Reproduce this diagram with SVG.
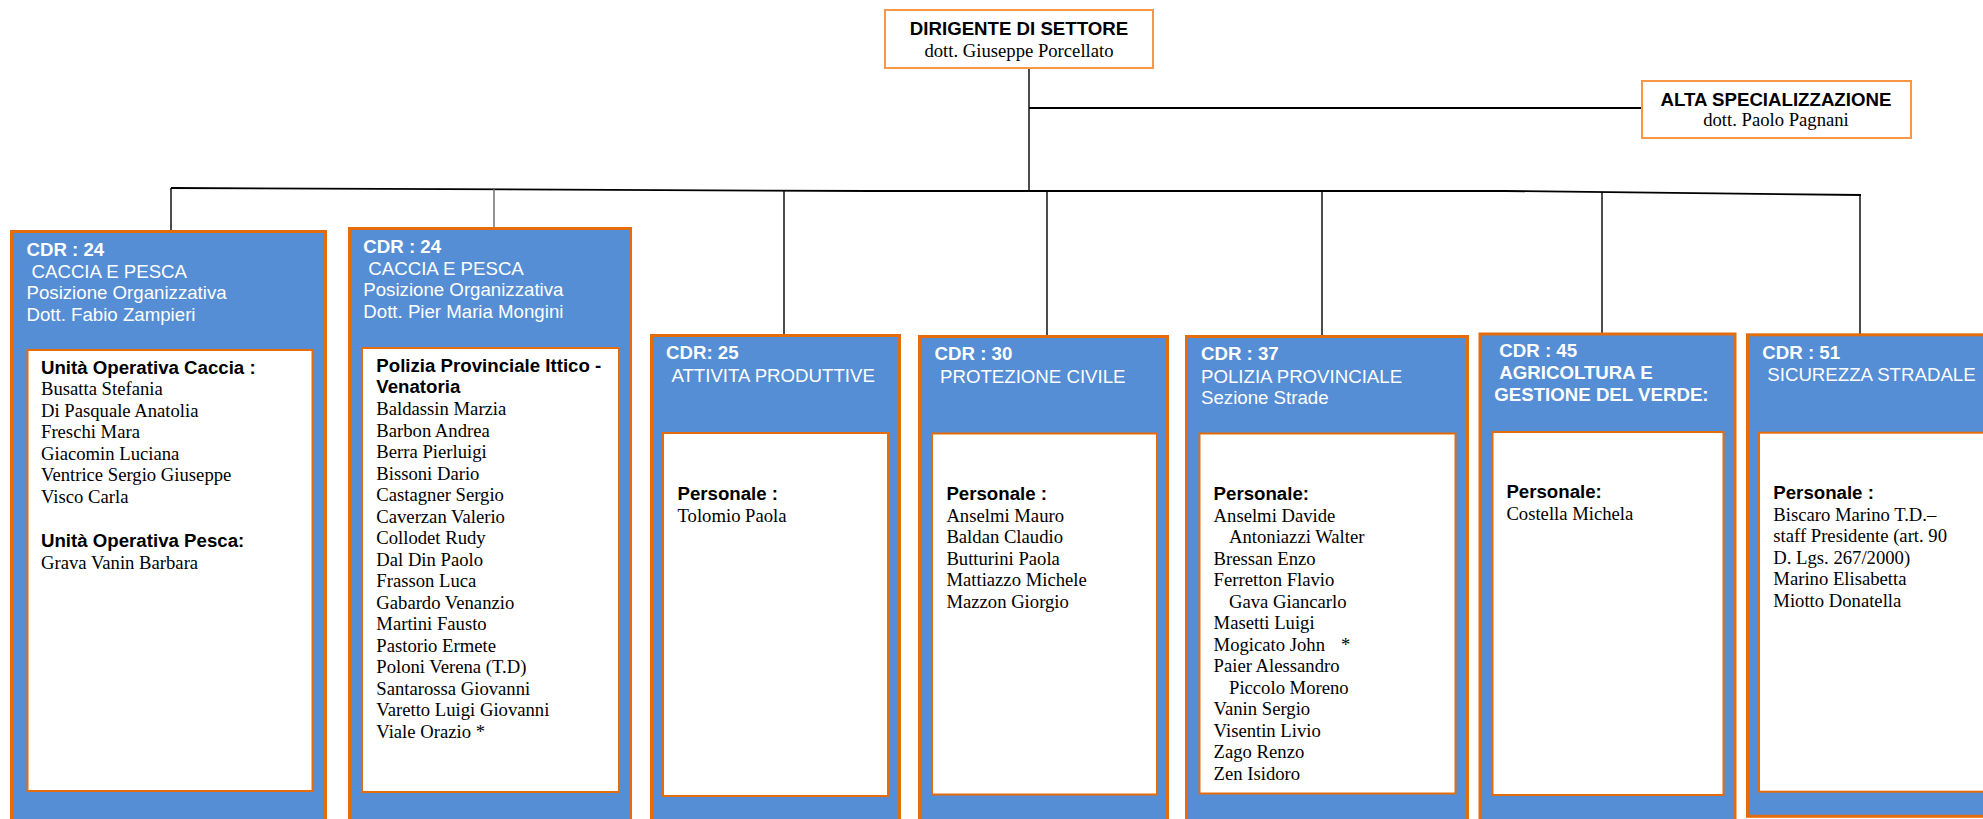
<svg xmlns="http://www.w3.org/2000/svg" width="1983" height="819" viewBox="0 0 1983 819">
<style>
.top{fill:#fff;stroke:#F79646;stroke-width:2}
.outer{fill:#558ED5;stroke:#E46C0A;stroke-width:3}
.inner{fill:#fff;stroke:#E46C0A;stroke-width:2}
.conn{fill:none;stroke:#000;stroke-width:1.4}
text{font-size:18.67px}
.hb{font-family:"Liberation Sans",Arial,sans-serif;font-weight:bold;fill:#fff}
.h{font-family:"Liberation Sans",Arial,sans-serif;fill:#fff}
.b{font-family:"Liberation Sans",Arial,sans-serif;font-weight:bold;fill:#000}
.t{font-family:"Liberation Serif","Times New Roman",serif;fill:#000}
.c{text-anchor:middle}
</style>
<rect width="1983" height="819" fill="#fff"/>
<g id="connectors">
<line class="conn" x1="1029" y1="68" x2="1029" y2="191"/>
<line class="conn" x1="1029" y1="108" x2="1642" y2="108" style="stroke-width:2"/>
<polyline class="conn" points="171,188 871,191 1505,191 1861,195" style="stroke-width:1.8"/>
<line class="conn" x1="171" y1="188" x2="171" y2="231"/>
<line class="conn" x1="494" y1="189" x2="494" y2="228" style="stroke:#666"/>
<line class="conn" x1="784" y1="190" x2="784" y2="335"/>
<line class="conn" x1="1047" y1="191" x2="1047" y2="338"/>
<line class="conn" x1="1322" y1="191" x2="1322" y2="338"/>
<line class="conn" x1="1602" y1="192" x2="1602" y2="339"/>
<line class="conn" x1="1860" y1="195" x2="1860" y2="339"/>
</g>
<g id="dirigente">
<rect class="top" x="885" y="10" width="268" height="58"/>
<text class="b c" x="1019" y="35">DIRIGENTE DI SETTORE</text>
<text class="t c" x="1019" y="57">dott. Giuseppe Porcellato</text>
</g>
<g id="alta">
<rect class="top" x="1642" y="81" width="269" height="57"/>
<text class="b c" x="1776" y="106">ALTA SPECIALIZZAZIONE</text>
<text class="t c" x="1776" y="126">dott. Paolo Pagnani</text>
</g>
<g id="cdr24a">
<rect class="outer" x="11.5" y="231.5" width="314" height="600"/>
<text class="hb" x="26.5" y="256">CDR : 24</text>
<text class="h" x="31.5" y="277.5">CACCIA E PESCA</text>
<text class="h" x="26.5" y="299">Posizione Organizzativa</text>
<text class="h" x="26.5" y="320.5">Dott. Fabio Zampieri</text>
<rect class="inner" x="27.5" y="350" width="285" height="441"/>
<text class="b" x="41" y="373.5">Unità Operativa Caccia :</text>
<text class="t" x="41" y="395">Busatta Stefania</text>
<text class="t" x="41" y="416.5">Di Pasquale Anatolia</text>
<text class="t" x="41" y="438">Freschi Mara</text>
<text class="t" x="41" y="459.5">Giacomin Luciana</text>
<text class="t" x="41" y="481">Ventrice Sergio Giuseppe</text>
<text class="t" x="41" y="502.5">Visco Carla</text>
<text class="b" x="41" y="547">Unità Operativa Pesca:</text>
<text class="t" x="41" y="568.5">Grava Vanin Barbara</text>
</g>
<g id="cdr24b">
<rect class="outer" x="349.5" y="228.5" width="281" height="600"/>
<text class="hb" x="363.3" y="252.7">CDR : 24</text>
<text class="h" x="368.3" y="274.5">CACCIA E PESCA</text>
<text class="h" x="363.3" y="296">Posizione Organizzativa</text>
<text class="h" x="363.3" y="317.5">Dott. Pier Maria Mongini</text>
<rect class="inner" x="362" y="348" width="257" height="444"/>
<text class="b" x="376.3" y="371.7">Polizia Provinciale Ittico -</text>
<text class="b" x="376.3" y="393.3">Venatoria</text>
<text class="t" x="376.3" y="415">Baldassin Marzia</text>
<text class="t" x="376.3" y="436.5">Barbon Andrea</text>
<text class="t" x="376.3" y="458">Berra Pierluigi</text>
<text class="t" x="376.3" y="479.5">Bissoni Dario</text>
<text class="t" x="376.3" y="501">Castagner Sergio</text>
<text class="t" x="376.3" y="522.5">Caverzan Valerio</text>
<text class="t" x="376.3" y="544">Collodet Rudy</text>
<text class="t" x="376.3" y="565.5">Dal Din Paolo</text>
<text class="t" x="376.3" y="587">Frasson Luca</text>
<text class="t" x="376.3" y="608.5">Gabardo Venanzio</text>
<text class="t" x="376.3" y="630">Martini Fausto</text>
<text class="t" x="376.3" y="651.5">Pastorio Ermete</text>
<text class="t" x="376.3" y="673">Poloni Verena (T.D)</text>
<text class="t" x="376.3" y="694.5">Santarossa Giovanni</text>
<text class="t" x="376.3" y="716">Varetto Luigi Giovanni</text>
<text class="t" x="376.3" y="737.5">Viale Orazio *</text>
</g>
<g id="cdr25">
<rect class="outer" x="651.5" y="335.5" width="248" height="500"/>
<text class="hb" x="666" y="359.3">CDR: 25</text>
<text class="h" x="671.4" y="381.5">ATTIVITA PRODUTTIVE</text>
<rect class="inner" x="663" y="433" width="225" height="363"/>
<text class="b" x="677.5" y="500">Personale :</text>
<text class="t" x="677.5" y="521.5">Tolomio Paola</text>
</g>
<g id="cdr30">
<rect class="outer" x="919.5" y="336.5" width="248" height="500"/>
<text class="hb" x="934.6" y="360">CDR : 30</text>
<text class="h" x="940" y="382.5">PROTEZIONE CIVILE</text>
<rect class="inner" x="932" y="433.5" width="225" height="361"/>
<text class="b" x="946.4" y="500">Personale :</text>
<text class="t" x="946.4" y="521.5">Anselmi Mauro</text>
<text class="t" x="946.4" y="543">Baldan Claudio</text>
<text class="t" x="946.4" y="564.5">Butturini Paola</text>
<text class="t" x="946.4" y="586">Mattiazzo Michele</text>
<text class="t" x="946.4" y="607.5">Mazzon Giorgio</text>
</g>
<g id="cdr37">
<rect class="outer" x="1186.5" y="336.5" width="281" height="500"/>
<text class="hb" x="1201" y="360">CDR : 37</text>
<text class="h" x="1201" y="382.5">POLIZIA PROVINCIALE</text>
<text class="h" x="1201" y="404">Sezione Strade</text>
<rect class="inner" x="1199.5" y="433.5" width="256" height="360"/>
<text class="b" x="1213.6" y="500">Personale:</text>
<text class="t" x="1213.6" y="521.5">Anselmi Davide</text>
<text class="t" x="1229" y="543">Antoniazzi Walter</text>
<text class="t" x="1213.6" y="564.5">Bressan Enzo</text>
<text class="t" x="1213.6" y="586">Ferretton Flavio</text>
<text class="t" x="1229" y="607.5">Gava Giancarlo</text>
<text class="t" x="1213.6" y="629">Masetti Luigi</text>
<text class="t" x="1213.6" y="650.5">Mogicato John<tspan x="1341">*</tspan></text>
<text class="t" x="1213.6" y="672">Paier Alessandro</text>
<text class="t" x="1229" y="693.5">Piccolo Moreno</text>
<text class="t" x="1213.6" y="715">Vanin Sergio</text>
<text class="t" x="1213.6" y="736.5">Visentin Livio</text>
<text class="t" x="1213.6" y="758">Zago Renzo</text>
<text class="t" x="1213.6" y="779.5">Zen Isidoro</text>
</g>
<g id="cdr45">
<rect class="outer" x="1480" y="334" width="255" height="500"/>
<text class="hb" x="1499.3" y="357.3">CDR : 45</text>
<text class="hb" x="1499.3" y="379">AGRICOLTURA E</text>
<text class="hb" x="1494.3" y="400.5">GESTIONE DEL VERDE:</text>
<rect class="inner" x="1492.5" y="432" width="231" height="363"/>
<text class="b" x="1506.4" y="498.3">Personale:</text>
<text class="t" x="1506.4" y="519.8">Costella Michela</text>
</g>
<g id="cdr51">
<rect class="outer" x="1747.5" y="334.8" width="300" height="481.5"/>
<text class="hb" x="1762.3" y="359.3">CDR : 51</text>
<text class="h" x="1767.3" y="381">SICUREZZA STRADALE</text>
<rect class="inner" x="1759" y="432.7" width="300" height="359"/>
<text class="b" x="1773.3" y="499.3">Personale :</text>
<text class="t" x="1773.3" y="520.8">Biscaro Marino T.D.–</text>
<text class="t" x="1773.3" y="542.3">staff Presidente (art. 90</text>
<text class="t" x="1773.3" y="563.8">D. Lgs. 267/2000)</text>
<text class="t" x="1773.3" y="585.3">Marino Elisabetta</text>
<text class="t" x="1773.3" y="606.8">Miotto Donatella</text>
</g>
</svg>
